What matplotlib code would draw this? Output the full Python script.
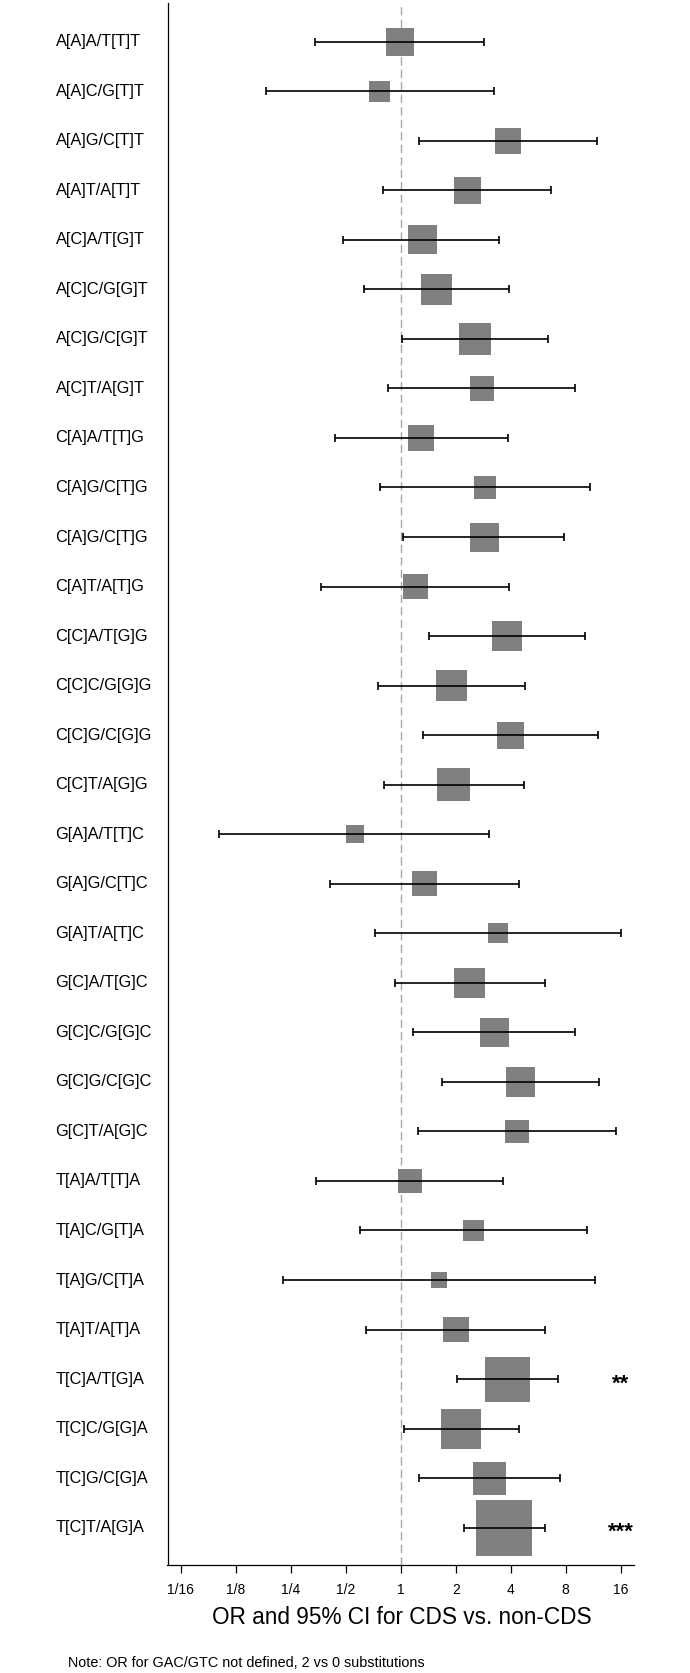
import matplotlib
matplotlib.use('Agg')
import matplotlib.pyplot as plt
import matplotlib.transforms as mtransforms
import numpy as np

plt.rcParams['font.family'] = ['Liberation Sans', 'DejaVu Sans']

labels = ["A[A]A/T[T]T", "A[A]C/G[T]T", "A[A]G/C[T]T", "A[A]T/A[T]T",
          "A[C]A/T[G]T", "A[C]C/G[G]T", "A[C]G/C[G]T", "A[C]T/A[G]T",
          "C[A]A/T[T]G", "C[A]G/C[T]G", "C[A]G/C[T]G", "C[A]T/A[T]G",
          "C[C]A/T[G]G", "C[C]C/G[G]G", "C[C]G/C[G]G", "C[C]T/A[G]G",
          "G[A]A/T[T]C", "G[A]G/C[T]C", "G[A]T/A[T]C", "G[C]A/T[G]C",
          "G[C]C/G[G]C", "G[C]G/C[G]C", "G[C]T/A[G]C", "T[A]A/T[T]A",
          "T[A]C/G[T]A", "T[A]G/C[T]A", "T[A]T/A[T]A", "T[C]A/T[G]A",
          "T[C]C/G[G]A", "T[C]G/C[G]A", "T[C]T/A[G]A"]

odds_ratio = [0.99, 0.77, 3.88, 2.32, 1.31, 1.57, 2.55, 2.79,
              1.29, 2.89, 2.86, 1.20, 3.83, 1.90, 4.00, 1.95,
              0.56, 1.35, 3.41, 2.38, 3.25, 4.53, 4.34, 1.12,
              2.51, 1.62, 2.00, 3.84, 2.14, 3.07, 3.69]

ci_low = [0.341, 0.183, 1.255, 0.801, 0.486, 0.631, 1.011, 0.856,
          0.435, 0.766, 1.034, 0.365, 1.434, 0.749, 1.327, 0.806,
          0.101, 0.412, 0.721, 0.925, 1.174, 1.684, 1.241, 0.345,
          0.600, 0.228, 0.642, 2.022, 1.040, 1.255, 2.222]

ci_high = [2.85, 3.24, 11.86, 6.63, 3.46, 3.91, 6.37, 9.04,
           3.85, 10.91, 7.87, 3.93, 10.16, 4.80, 12.06, 4.70,
           3.03, 4.42, 16.09, 6.16, 8.94, 12.19, 15.14, 3.64,
           10.44, 11.54, 6.20, 7.24, 4.42, 7.44, 6.13]

# weight of each estimate (drawn as box size)
weight = [28.0, 21.0, 26.0, 27.3, 29.0, 31.3, 31.3, 24.7,
          26.7, 22.7, 29.0, 25.0, 30.0, 31.3, 26.7, 32.7,
          18.0, 24.7, 19.7, 30.3, 28.7, 29.3, 23.7, 24.3,
          21.0, 15.7, 25.7, 45.0, 40.0, 33.0, 56.3]

signif = [""] * 31
signif[27] = "**"
signif[30] = "***"

tick_vals = [1/16, 1/8, 1/4, 1/2, 1, 2, 4, 8, 16]
tick_labels = ['1/16', '1/8', '1/4', '1/2', '1', '2', '4', '8', '16']

W, H = 690, 1673
fig = plt.figure(figsize=(W / 100, H / 100), dpi=100)
ax = fig.add_axes([167.5 / W, 1 - 1565 / H, (634.2 - 167.5) / W, (1565 - 3) / H])

rows = np.arange(len(labels))
orr = np.array(odds_ratio)
lo = np.array(ci_low)
hi = np.array(ci_high)

ax.axvline(1, color='#a8a8a8', linestyle=(0, (6, 3)), linewidth=1.0, zorder=1)
ax.scatter(orr, rows, marker='s', s=(np.array(weight) * 0.72) ** 2,
           color='#808080', linewidths=0, zorder=2)
ax.errorbar(orr, rows, xerr=[orr - lo, hi - orr], fmt='none', ecolor='black',
            elinewidth=1.2, capsize=3.2, capthick=1.2, zorder=3)

for i in range(len(signif)):
    if signif[i]:
        ax.text(16, rows[i] + 0.1, signif[i], ha='center', va='center',
                fontsize=16, fontweight='bold')

ax.set_xscale('log', base=2)
ax.set_xlim(2 ** -4.24, 2 ** 4.245)
ax.set_ylim(30.753, -0.781)
ax.set_xticks(tick_vals)
ax.set_xticklabels(tick_labels, fontsize=10)
ax.minorticks_off()
ax.set_yticks([])
ax.tick_params(axis='x', direction='out', length=6, width=0.9, pad=7)

for side in ['top', 'right']:
    ax.spines[side].set_visible(False)
ax.spines['left'].set_linewidth(0.9)
ax.spines['bottom'].set_linewidth(0.9)

trans = mtransforms.blended_transform_factory(fig.transFigure, ax.transData)
for i in range(len(labels)):
    ax.text(55.5 / W, rows[i], labels[i], transform=trans, ha='left', va='center', fontsize=11.8)

fig.text(401.5 / W, 1 - 1618 / H, 'OR and 95% CI for CDS vs. non-CDS', ha='center', va='center', fontsize=16.3)
fig.text(68.5 / W, 1 - 1663 / H, 'Note: OR for GAC/GTC not defined, 2 vs 0 substitutions',
         ha='left', va='center', fontsize=10.4)

plt.savefig("out.png", dpi=100)
